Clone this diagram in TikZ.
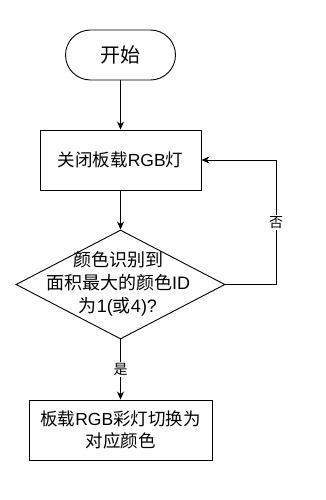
\documentclass[tikz,border=0pt]{standalone}
\usepackage{fontspec}
\setmainfont{Liberation Sans}
\newfontfamily\cjk{Noto Sans CJK SC}
\usetikzlibrary{shapes.geometric,arrows.meta}
\begin{document}
\begin{tikzpicture}[x=1pt,y=-1pt,
  base/.style={draw=black, line width=0.9pt},
  proc/.style={base, rectangle, minimum height=60pt, inner sep=0pt, align=center, font=\fontsize{17.5}{22.5}\selectfont},
  conn/.style={line width=0.9pt, -{Stealth[length=8pt,width=7pt]}},
  lbl/.style={fill=white, inner sep=1.5pt, font=\fontsize{14}{16}\selectfont\cjk}
]
\useasboundingbox (0,0) rectangle (326,500);
\node[base, rectangle, rounded corners=25pt, minimum width=110pt, minimum height=50pt, inner sep=0pt, font=\fontsize{20}{24}\selectfont\cjk] (start) at (120.5,55) {开始};
\node[proc, minimum width=161pt] (b1) at (120.5,160) {{\cjk 关闭板载}RGB{\cjk 灯}};
\node[base, diamond, minimum width=209pt, minimum height=109pt, inner sep=0pt] (d) at (120.5,284.5) {};
\node[align=center, inner sep=0pt, font=\fontsize{18}{23}\selectfont] (dt) at (118,284) {{\cjk 颜色识别到}\\{\cjk 面积最大的颜色}ID\\{\cjk 为}1({\cjk 或}4)?};
\node[proc, minimum width=183pt] (b2) at (120.5,430) {{\cjk 板载}RGB{\cjk 彩灯切换为}\\{\cjk 对应颜色}};
\coordinate (fb) at (276,284.5);
\draw[conn] (start) -- (b1);
\draw[conn] (b1) -- (d);
\draw[conn] (d.south) -- node[lbl] {是} (b2.north);
\draw[conn] (d.east) -- (fb) |- node[lbl, pos=0.25] {否} (b1.east);
\end{tikzpicture}
\end{document}
